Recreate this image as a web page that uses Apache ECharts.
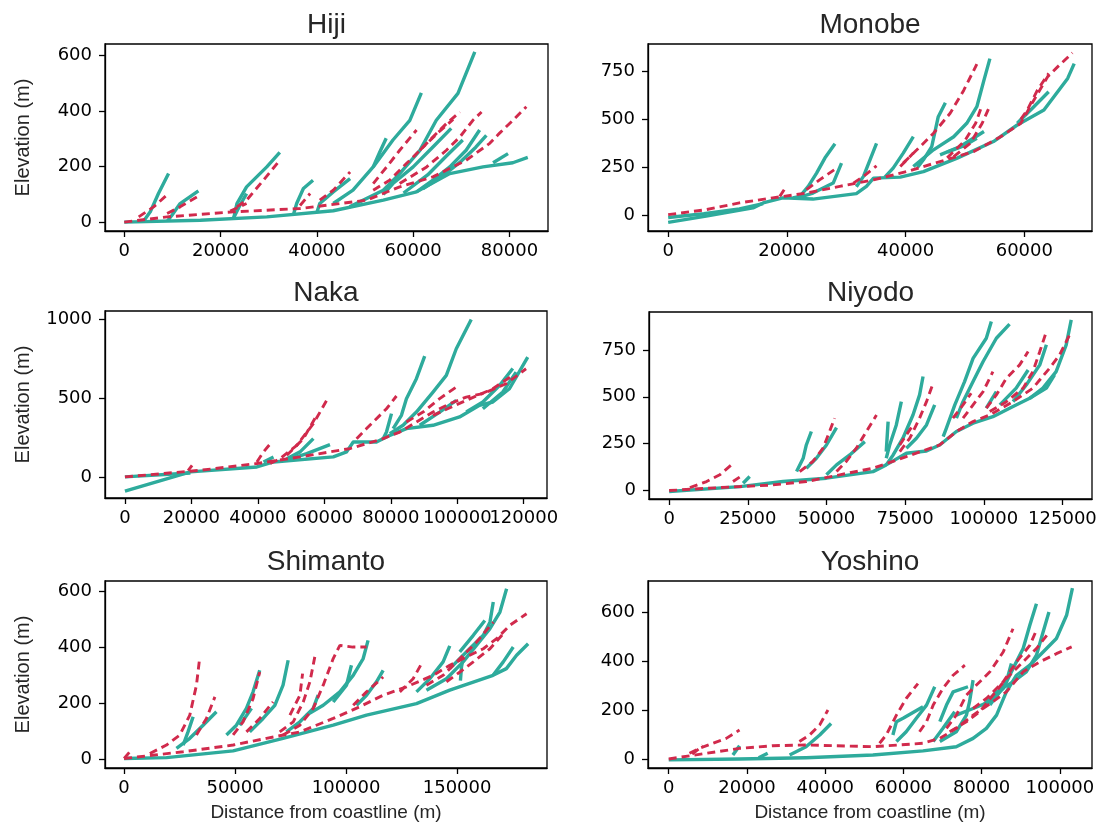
<!DOCTYPE html>
<html>
<head>
<meta charset="utf-8">
<script src="https://cdn.jsdelivr.net/npm/echarts@6/dist/echarts.min.js"></script>
<style>
html,body{margin:0;padding:0;background:#fff;}
#chart{width:1105px;height:834px;}
</style>
</head>
<body>
<div id="chart"></div>
<script>
// ---------------- DATA ----------------
const panelNames = ['Hiji', 'Monobe', 'Naka', 'Niyodo', 'Shimanto', 'Yoshino'];
const yLabelText = 'Elevation (m)';
const xLabelText = 'Distance from coastline (m)';

const hijiXTicks = [0, 20000, 40000, 60000, 80000];
const hijiYTicks = [0, 200, 400, 600];
const monobeXTicks = [0, 20000, 40000, 60000];
const monobeYTicks = [0, 250, 500, 750];
const nakaXTicks = [0, 20000, 40000, 60000, 80000, 100000, 120000];
const nakaYTicks = [0, 500, 1000];
const niyodoXTicks = [0, 25000, 50000, 75000, 100000, 125000];
const niyodoYTicks = [0, 250, 500, 750];
const shimantoXTicks = [0, 50000, 100000, 150000];
const shimantoYTicks = [0, 200, 400, 600];
const yoshinoXTicks = [0, 20000, 40000, 60000, 80000, 100000];
const yoshinoYTicks = [0, 200, 400, 600];

const hijiTeal = [
  [[0,0],[15800,7],[29600,19],[43400,41],[53800,79],[60700,109],[67600,175],[74500,199],[80700,214],[83800,233]],
  [[46800,55],[53800,115],[57200,175],[61400,259],[64800,367],[69300,464],[72800,614]],
  [[43400,67],[47500,115],[51700,199],[55800,296],[59300,367],[61700,466]],
  [[51700,199],[53000,250],[54400,302]],
  [[76600,214],[79700,247]],
  [[60700,109],[64100,151],[67600,199],[71000,259],[73800,332]],
  [[62000,120],[66000,165],[70000,220],[73000,270],[75200,313]],
  [[53800,100],[55800,139],[60000,199],[64100,271],[67900,338]],
  [[58000,105],[63000,170],[67000,240],[70300,296]],
  [[22700,12],[23400,67],[25400,127],[29600,199],[32300,251]],
  [[4000,3],[5400,37],[7100,103],[9200,175]],
  [[9000,5],[9900,25],[11600,67],[15400,113]],
  [[35100,25],[35800,67],[37200,121],[39200,151]],
  [[40000,35],[40600,67],[43400,109],[46900,157]],
  [[22700,15],[24000,60],[25400,103]]
];
const hijiRed = [
  [[0,0],[8900,19],[22700,37],[36500,49],[50300,79],[57200,127],[64100,163],[71000,223],[75900,284],[77900,320],[80700,367],[83500,416]],
  [[57200,139],[62800,199],[66900,259],[69700,307],[72400,367],[74200,397]],
  [[51700,115],[55100,151],[58600,211],[61400,259],[64100,307],[66900,355],[69700,397]],
  [[61400,259],[65000,320],[68300,370]],
  [[51700,139],[54500,199],[57200,259],[60700,332]],
  [[40600,79],[43400,115],[46900,181]],
  [[23400,55],[25400,79],[28900,151],[32300,223]],
  [[3000,19],[6100,55],[9200,103]],
  [[8900,31],[11600,55],[15100,91]],
  [[36500,60],[38600,103]],
  [[22000,40],[25400,67]]
];

const monobeTeal = [
  [[0,-35],[6400,-3],[14300,40],[16000,66],[19300,92],[24400,86],[31700,114],[33400,152],[34600,195],[39100,200],[43000,229],[48700,299],[54800,385],[58800,471],[63300,549],[67300,713],[68400,790]],
  [[0,-10],[6000,10],[12000,35],[16000,62]],
  [[21000,92],[22200,100],[23600,152],[25000,221],[26400,299],[28100,373]],
  [[22000,95],[24400,117],[27800,169],[29200,273]],
  [[31700,150],[32900,204],[34000,290],[35100,376]],
  [[36500,200],[37900,247],[39600,325],[41300,410]],
  [[42000,250],[43000,290],[44400,359],[45500,514],[46700,587]],
  [[41300,255],[44700,342],[48100,410],[50300,480],[52000,566],[53200,704],[54200,816]],
  [[45800,316],[49200,359],[53200,437]],
  [[47000,330],[50000,365],[52000,402]],
  [[58800,480],[61600,566],[64100,644]]
];
const monobeRed = [
  [[0,5],[6400,31],[12000,66],[17600,92],[23300,117],[28900,152],[34600,186],[40200,229],[45800,281],[51500,333],[56000,410],[59400,480],[61600,600],[63900,721],[65600,773],[68100,846]],
  [[39600,273],[41900,342],[44700,428],[47500,532],[49800,652],[52000,787]],
  [[48100,307],[50900,376],[52900,480],[54000,557]],
  [[47000,300],[50000,390],[51800,480],[52900,575]],
  [[31200,169],[32900,204],[35100,259]],
  [[23300,135],[25500,186],[28400,247]],
  [[18800,100],[19900,152]],
  [[39100,255],[41300,325]],
  [[59400,500],[60500,549],[62200,652],[64100,739]]
];

const nakaTeal = [
  [[0,-91],[19700,32],[39700,63],[44700,95],[62700,127],[66700,159],[68700,222],[75700,222],[79700,264],[84700,307],[92700,328],[100700,381],[106700,455],[110700,476],[115700,560],[121200,761]],
  [[0,0],[19700,25]],
  [[79700,275],[83700,328],[87700,412],[92700,539],[96700,645],[99700,814],[104200,1000]],
  [[80700,307],[83200,391],[84700,497],[87700,624],[90200,767]],
  [[77700,243],[78700,285],[80200,402]],
  [[48700,116],[52700,159],[56700,243]],
  [[48700,106],[54700,148],[61700,205]],
  [[41700,95],[44700,127]],
  [[88700,328],[94700,412],[99700,486]],
  [[102700,412],[107700,476],[112700,581],[116700,689]],
  [[107700,433],[113700,539],[117700,666]]
];
const nakaRed = [
  [[0,0],[22700,42],[39700,85],[52700,127],[67700,180],[77700,243],[82700,285],[87700,349],[92700,412],[97700,465],[102700,507],[107700,529],[114700,592],[120700,687]],
  [[84700,349],[89700,412],[94700,497],[99700,571]],
  [[69700,243],[72700,307],[78700,433],[81700,514]],
  [[43700,85],[46700,116],[51700,201],[56700,338],[60700,486]],
  [[48700,137],[53700,243],[57700,391]],
  [[39700,95],[41700,159],[44200,222]],
  [[19000,40],[20200,74]],
  [[92700,391],[102700,486],[110700,560],[116700,645]]
];

const niyodoTeal = [
  [[0,-5],[22500,21],[36200,48],[50000,66],[64800,101],[69000,137],[75400,199],[81800,211],[86000,243],[91300,315],[96600,359],[102900,394],[109300,448],[114600,492],[118800,546],[123000,634],[126200,777],[127800,910]],
  [[87100,288],[88100,332],[90800,457],[93900,581],[96600,705],[100800,812],[102400,901]],
  [[91300,386],[93400,474],[96600,581],[99800,688],[104000,812],[108200,887]],
  [[69000,137],[71200,190],[74300,279],[77500,403],[79600,510],[80700,608]],
  [[69000,172],[70100,243],[72200,350],[73800,474]],
  [[69000,208],[69600,368]],
  [[75400,226],[78600,279],[81800,350],[84400,457]],
  [[40500,101],[42600,172],[43600,243],[45200,315]],
  [[43600,119],[46800,172],[50000,243],[53200,336]],
  [[50000,84],[53200,137],[57400,190],[62200,261]],
  [[114600,492],[119900,546],[122500,617]],
  [[109300,474],[113500,563],[117800,670],[119900,777]],
  [[105100,457],[110300,546],[114100,643]],
  [[100800,439],[104000,528]],
  [[23500,39],[25600,75]]
];
const niyodoRed = [
  [[0,0],[11900,12],[33000,30],[43600,48],[54200,84],[64800,119],[75400,181],[86000,243],[91300,315],[96600,368],[101900,403],[109300,474],[115600,546],[120900,652],[124100,723],[127800,848]],
  [[101900,421],[107200,474],[112500,546],[115600,634],[117800,741],[119900,848]],
  [[100800,439],[104000,510],[107200,599],[111400,670],[114100,741]],
  [[93400,386],[96600,457],[99800,528],[102900,634]],
  [[73300,208],[76500,279],[79600,386],[81800,474],[83900,572]],
  [[53200,101],[56300,155],[59500,226],[62700,315],[65900,403]],
  [[41500,101],[45700,155],[48900,226],[51000,315],[52600,386]],
  [[6600,16],[11900,48],[16100,84],[19800,137]],
  [[20300,48],[23500,84]],
  [[90200,386],[93400,457],[96000,519]],
  [[73300,243],[77500,350]]
];

const shimantoTeal = [
  [[0,2],[19100,5],[49100,29],[71600,74],[94200,121],[109200,157],[131700,198],[146700,246],[166200,299],[172200,323],[176800,371],[182000,412]],
  [[136200,246],[145200,287],[152700,347],[158700,406],[164800,466],[169300,525],[172300,608]],
  [[146700,323],[154300,383],[161800,442],[164800,489],[166300,561]],
  [[151200,383],[157300,442],[162500,495]],
  [[166200,299],[170800,347],[175300,400]],
  [[131700,240],[137700,287],[143700,347],[146700,404]],
  [[104700,192],[109200,228],[113700,276],[116700,317]],
  [[82200,157],[89700,192],[97200,240],[103200,299],[107700,359],[109900,424]],
  [[94200,204],[100200,264],[102400,335]],
  [[56600,97],[62600,145],[67900,192],[71600,264],[73900,353]],
  [[73100,97],[79200,133],[85200,181],[87400,228]],
  [[46100,86],[50600,121],[55100,181],[58100,240],[61100,317]],
  [[52100,121],[57400,181]],
  [[23600,38],[29600,74],[35600,121],[41600,169]],
  [[26600,50],[28800,97],[31100,151]],
  [[151500,280],[152000,330],[152700,359]]
];
const shimantoRed = [
  [[0,2],[26600,26],[49100,50],[64100,74],[79200,97],[94200,145],[106200,187],[116700,228],[127200,258],[139200,299],[146700,335],[154300,365],[161800,394],[167800,430],[173800,478],[181300,519]],
  [[136200,264],[143700,299],[151300,359],[158800,418],[166300,489]],
  [[145200,276],[151300,311],[157300,347],[164800,394],[170800,448]],
  [[124200,240],[130200,287],[134000,341]],
  [[103200,192],[109200,240],[116700,293]],
  [[71600,86],[79200,121],[85200,181],[89700,264],[94200,359],[97200,406],[103000,400],[109200,400]],
  [[70100,97],[76200,133],[80700,204],[83700,276],[85900,365]],
  [[74700,157],[79200,228],[80400,305]],
  [[49100,86],[53600,133],[58100,216],[61100,311]],
  [[11600,20],[19100,50],[25100,86],[29600,157],[32600,264],[34100,365]],
  [[32600,86],[37100,145],[40900,222]],
  [[0,2],[2600,26]],
  [[55100,97],[61100,145],[67100,204]]
];

const yoshinoTeal = [
  [[0,-4],[18100,0],[35100,5],[52200,16],[65000,33],[73500,50],[77800,84],[81200,125],[83800,179],[86300,274],[88900,342],[92300,383],[95700,437],[99100,492],[101700,587],[103200,698]],
  [[73500,179],[77800,206],[82100,234],[85500,288],[88000,369],[90600,451],[92300,546],[94000,634]],
  [[80400,220],[83800,274],[88000,315],[91400,356],[94000,424],[95700,519],[97200,600]],
  [[82100,220],[84600,274],[86300,315],[87600,390]],
  [[69300,71],[73500,111],[76100,179],[76900,234],[77800,322]],
  [[69300,152],[71000,220],[72700,274],[76500,295]],
  [[58200,71],[60700,111],[63300,166],[65900,220],[68000,295]],
  [[57300,98],[58200,152],[59900,166],[65000,213]],
  [[67600,71],[70100,125],[73100,193]],
  [[30900,16],[35100,50],[38600,98],[41500,145]],
  [[16400,16],[18100,54]],
  [[23000,5],[25300,23]]
];
const yoshinoRed = [
  [[0,0],[9600,23],[18100,43],[26600,54],[35100,57],[52200,50],[65000,64],[69300,84],[73500,125],[77800,179],[82900,234],[86300,274],[90600,356],[94900,397],[99100,430],[103000,458]],
  [[71800,111],[76100,152],[79500,193],[82900,261],[86300,329],[90600,397],[94000,451],[97000,512]],
  [[77800,206],[81200,247],[85500,315],[88900,397],[92300,464],[94000,526]],
  [[71000,125],[73500,179],[76100,261],[78600,301],[82100,356],[85500,437],[88000,532]],
  [[64100,111],[65900,152],[67600,220],[70100,288],[72700,342],[75700,383]],
  [[53900,64],[55600,98],[58200,179],[60700,247],[63700,308]],
  [[33400,71],[36000,98],[38600,139],[40700,200]],
  [[5300,23],[7800,43],[11300,64],[14700,84],[18100,118]],
  [[6000,20],[8700,54]]
];

// ---------------- LAYOUT / STYLE ----------------
const panels = [
  {teal: hijiTeal, red: hijiRed, xt: hijiXTicks, yt: hijiYTicks, xr: [-4000, 88000], yr: [-32, 642], g: [105, 44, 443, 187]},
  {teal: monobeTeal, red: monobeRed, xt: monobeXTicks, yt: monobeYTicks, xr: [-3400, 71400], yr: [-80, 892], g: [648, 44, 444, 187]},
  {teal: nakaTeal, red: nakaRed, xt: nakaXTicks, yt: nakaYTicks, xr: [-6000, 127000], yr: [-134, 1054], g: [105, 311, 442, 187]},
  {teal: niyodoTeal, red: niyodoRed, xt: niyodoXTicks, yt: niyodoYTicks, xr: [-6400, 134400], yr: [-45, 952], g: [649, 312, 443, 187]},
  {teal: shimantoTeal, red: shimantoRed, xt: shimantoXTicks, yt: shimantoYTicks, xr: [-8600, 190500], yr: [-32, 636], g: [105, 581, 442, 187]},
  {teal: yoshinoTeal, red: yoshinoRed, xt: yoshinoXTicks, yt: yoshinoYTicks, xr: [-5300, 108200], yr: [-37, 727], g: [648, 581, 444, 187]}
];
const TEAL = '#2eab9c';
const RED = '#d12a4c';
const TICKFONT = 'DejaVu Sans';
const LABFONT = 'Liberation Sans, Arial, sans-serif';
const labelStyle = {formatter: v => String(v), fontFamily: TICKFONT, fontSize: 18, color: '#000', hideOverlap: false};

const grids = [], xAxes = [], yAxes = [], series = [], graphics = [], extraX = [];
panels.forEach((p, i) => {
  const [l, t, w, h] = p.g;
  grids.push({left: l, top: t, width: w, height: h, show: true, borderColor: '#000', borderWidth: 1.3, containLabel: false});
  // labels are split so that touching neighbours are all kept (as in the reference)
  const mainLabels = p.xt.filter((v, k) => k % 2 === 0);
  const altLabels = p.xt.filter((v, k) => k % 2 === 1);
  xAxes.push({
    gridIndex: i, type: 'value', min: p.xr[0], max: p.xr[1], position: 'bottom',
    axisLine: {onZero: false, lineStyle: {color: '#000', width: 1.3}},
    axisTick: {show: true, length: 6, customValues: p.xt, lineStyle: {color: '#000', width: 1.3}},
    axisLabel: Object.assign({customValues: mainLabels, margin: 11}, labelStyle),
    splitLine: {show: false}
  });
  extraX.push({
    gridIndex: i, type: 'value', min: p.xr[0], max: p.xr[1], position: 'bottom', offset: 0,
    axisLine: {show: false}, axisTick: {show: false},
    axisLabel: Object.assign({customValues: altLabels, margin: 11}, labelStyle),
    splitLine: {show: false}
  });
  yAxes.push({
    gridIndex: i, type: 'value', min: p.yr[0], max: p.yr[1],
    axisLine: {onZero: false, lineStyle: {color: '#000', width: 1.3}},
    axisTick: {show: true, length: 6, customValues: p.yt, lineStyle: {color: '#000', width: 1.3}},
    axisLabel: Object.assign({customValues: p.yt, margin: 13}, labelStyle),
    splitLine: {show: false}
  });
  p.teal.forEach(d => series.push({
    type: 'line', xAxisIndex: i, yAxisIndex: i, data: d, symbol: 'none', silent: true,
    lineStyle: {color: TEAL, width: 3.4, cap: 'butt', join: 'round'}, z: 2
  }));
  p.red.forEach(d => series.push({
    type: 'line', xAxisIndex: i, yAxisIndex: i, data: d, symbol: 'none', silent: true,
    lineStyle: {color: RED, width: 2.9, type: [8, 5], cap: 'butt'}, z: 3
  }));
  const titleY = [25, 293, 562][Math.floor(i / 2)];
  graphics.push({type: 'text', x: l + w / 2, y: titleY, style: {text: panelNames[i], font: '28px ' + LABFONT, fill: '#262626', align: 'center', verticalAlign: 'middle'}});
  if (i % 2 === 0) {
    graphics.push({type: 'text', x: 23, y: t + h / 2, rotation: Math.PI / 2, style: {text: yLabelText, font: '20px ' + LABFONT, fill: '#262626', align: 'center', verticalAlign: 'middle'}});
  }
  if (i >= 4) {
    graphics.push({type: 'text', x: l + w / 2, y: 813, style: {text: xLabelText, font: '19px ' + LABFONT, fill: '#262626', align: 'center', verticalAlign: 'middle'}});
  }
});

const chart = echarts.init(document.getElementById('chart'), null, {renderer: 'canvas'});
chart.setOption({
  backgroundColor: '#fff',
  animation: false,
  grid: grids, xAxis: xAxes.concat(extraX), yAxis: yAxes, series: series,
  graphic: graphics
});
</script>
</body>
</html>
